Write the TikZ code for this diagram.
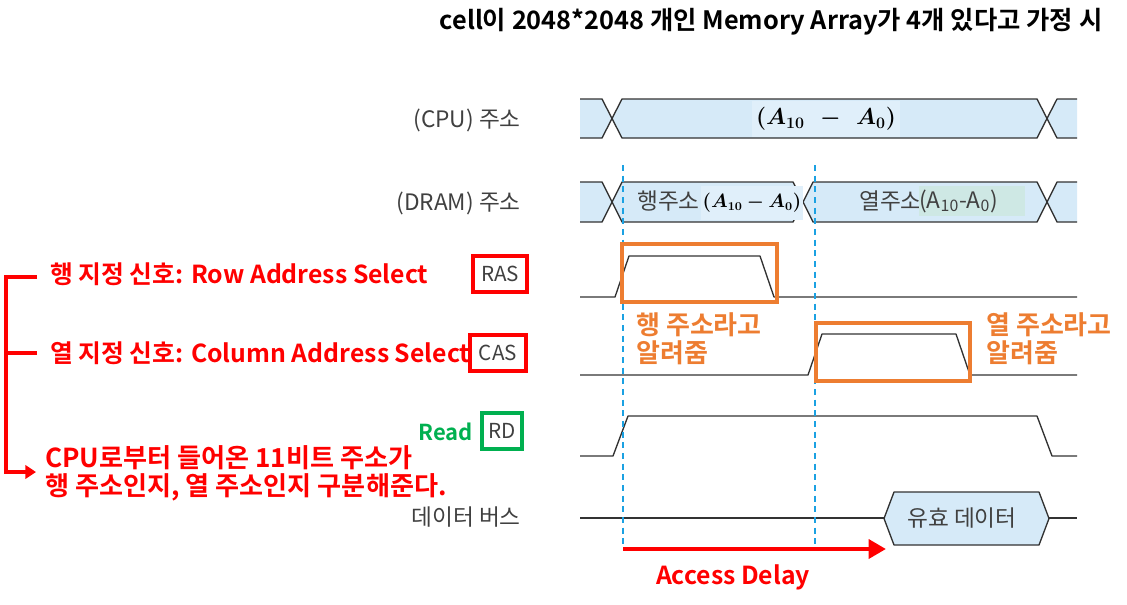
\documentclass[tikz,border=0pt]{standalone}
\usepackage{amsmath,bm}
\usepackage{fontspec}
\setmainfont{Noto Sans CJK KR}[BoldFont={Noto Sans CJK KR Bold}]
\usetikzlibrary{arrows.meta}
\definecolor{busblue}{RGB}{214,234,248}
\definecolor{mathbg}{RGB}{224,239,250}
\definecolor{colbg}{RGB}{206,232,228}
\definecolor{wave}{RGB}{50,50,50}
\definecolor{lbl}{RGB}{64,64,64}
\definecolor{tick}{RGB}{27,161,226}
\definecolor{note}{RGB}{237,125,49}
\definecolor{rdgreen}{RGB}{0,176,80}
\tikzset{
  sig/.style={draw=wave,line width=1pt,line join=round},
  lbl/.style={text=lbl,font=\fontsize{17}{20}\selectfont},
  redlbl/.style={text=red,font=\bfseries\fontsize{18.6}{20}\selectfont},
  note/.style={text=note,font=\bfseries\fontsize{19.5}{21}\selectfont,align=left},
  sigbox/.style={text=lbl,font=\fontsize{15.5}{18}\selectfont,line width=3pt,inner sep=0pt,minimum height=27pt},
  notebox/.style={draw=note,line width=3pt},
  tickline/.style={draw=tick,line width=1.5pt,dash pattern=on 4.5pt off 3.5pt},
  bracket/.style={draw=red,line width=3.6pt},
  delayarrow/.style={draw=red,line width=3.6pt,-{Triangle[length=13pt,width=14pt]}}
}
% bus pieces: top y, bottom y
\newcommand{\busstubl}[2]{%
  \fill[busblue] (580,#1) -- (602,#1) -- (612,{(#1+#2)/2}) -- (602,#2) -- (580,#2) -- cycle;
  \draw[sig] (580,#1) -- (602,#1) -- (612,{(#1+#2)/2}) -- (602,#2) -- (580,#2);}
\newcommand{\busstubr}[2]{%
  \fill[busblue] (1077,#1) -- (1057,#1) -- (1047,{(#1+#2)/2}) -- (1057,#2) -- (1077,#2) -- cycle;
  \draw[sig] (1077,#1) -- (1057,#1) -- (1047,{(#1+#2)/2}) -- (1057,#2) -- (1077,#2);}
% hexagon from x1 to x2, top y, bottom y
\newcommand{\bushex}[4]{%
  \filldraw[sig,fill=busblue] (#1,{(#3+#4)/2}) -- (#1+10,#3) -- (#2-10,#3) -- (#2,{(#3+#4)/2}) -- (#2-10,#4) -- (#1+10,#4) -- cycle;}
\begin{document}
\begin{tikzpicture}[x=0.75pt,y=-0.75pt]
\useasboundingbox (0,0) rectangle (1127,604);
\node[font=\bfseries\fontsize{19}{22}\selectfont] (title) at (771,22) {cell이 2048*2048 개인 Memory Array가 4개 있다고 가정 시};
%CPU address
\busstubl{99}{138}
\bushex{612}{1047}{99}{138}
\busstubr{99}{138}
\node[fill=mathbg,minimum height=27pt,font=\fontsize{17}{20}\selectfont] (cpuaddr) at (826,119) {$\bm{(A_{10}\;\,-\;\,A_0)}$};
\node[lbl,anchor=east,inner sep=0pt] (cpulbl) at (521,120) {(CPU) 주소};
%DRAM address
\busstubl{182}{222}
\bushex{612}{803}{182}{222}
\bushex{803}{1047}{182}{222}
\busstubr{182}{222}
\node[lbl,anchor=west,inner sep=0pt] (rowaddr) at (637,201) {행주소};
\node[fill=mathbg,inner sep=1pt,minimum height=25pt,font=\fontsize{13.5}{15}\selectfont] (rowbits) at (752,203) {$\bm{(A_{10}-A_0)}$};
\node[lbl,anchor=west,inner sep=0pt] (coladdr) at (859,201) {열주소};
\node[lbl,fill=colbg,anchor=west,inner sep=0pt,minimum height=23pt,text width=79pt] (colbits) at (919,201) {(A\textsubscript{10}-A\textsubscript{0})};
\node[lbl,anchor=east,inner sep=0pt] (dramlbl) at (521,203) {(DRAM) 주소};
%RAS
\draw[sig] (580,297) -- (615,297) -- (629,256) -- (760,256) -- (774,297) -- (1077,297);
\node[sigbox,draw=red,minimum width=41pt] (rasbox) at (500,274) {RAS};
\node[redlbl,anchor=west,inner sep=0pt] (raslbl) at (50,274) {행 지정 신호: Row Address Select};
%CAS
\draw[sig] (580,375) -- (808,375) -- (822,334) -- (956,334) -- (970,375) -- (1077,375);
\node[sigbox,draw=red,minimum width=42pt] (casbox) at (498,353) {CAS};
\node[redlbl,anchor=west,inner sep=0pt] (caslbl) at (50,353) {열 지정 신호: Column Address Select};
%RD
\draw[sig] (580,456) -- (613,456) -- (628,416) -- (1037,416) -- (1052,456) -- (1077,456);
\node[sigbox,draw=rdgreen,minimum width=30pt] (rdbox) at (502,431) {RD};
\node[text=rdgreen,font=\bfseries\fontsize{16.5}{19}\selectfont,anchor=east,inner sep=0pt] (readlbl) at (473,432) {Read};
\node[text=red,font=\bfseries\fontsize{19.6}{21.5}\selectfont,anchor=north west,align=left,inner sep=0pt] (cpunote) at (45,445) {CPU로부터 들어온 11비트 주소가\\행 주소인지, 열 주소인지 구분해준다.};
%data bus
\draw[sig] (580,518) -- (884,518);
\bushex{884}{1049}{492}{545}
\draw[sig] (1049,518) -- (1077,518);
\node[lbl] (validdata) at (962,518) {유효 데이터};
\node[lbl,anchor=east,inner sep=0pt] (datalbl) at (521,517) {데이터 버스};
%timing marks
\coordinate (k0) at (623,165);
\coordinate (k1) at (815,165);
\coordinate (d0) at (623,549);
\coordinate (k1b) at (815,549);
\coordinate (d1) at (886,549);
\draw[tickline] (k0) -- (d0);
\draw[tickline] (k1) -- (k1b);
\draw[notebox] (622,244) rectangle (777,302);
\draw[notebox] (816,323) rectangle (970,381);
\node[note,anchor=north west,inner sep=0pt] (rasnote) at (636,312) {행 주소라고\\알려줌};
\node[note,anchor=north west,inner sep=0pt] (casnote) at (986,312) {열 주소라고\\알려줌};
\draw[delayarrow] (d0) -- (d1);
\node[redlbl] (delay) at (733,577) {Access Delay};
%bracket
\coordinate (br1) at (37,277);
\coordinate (br2) at (37,353);
\coordinate (brc) at (6,472);
\coordinate (br3) at (36,472);
\draw[bracket] (br1) -| (brc);
\draw[bracket] (br2) -- (br2 -| brc);
\draw[bracket,-{Triangle[length=8pt,width=10pt]}] ([yshift=1.8pt]brc) |- (br3);
\end{tikzpicture}
\end{document}
